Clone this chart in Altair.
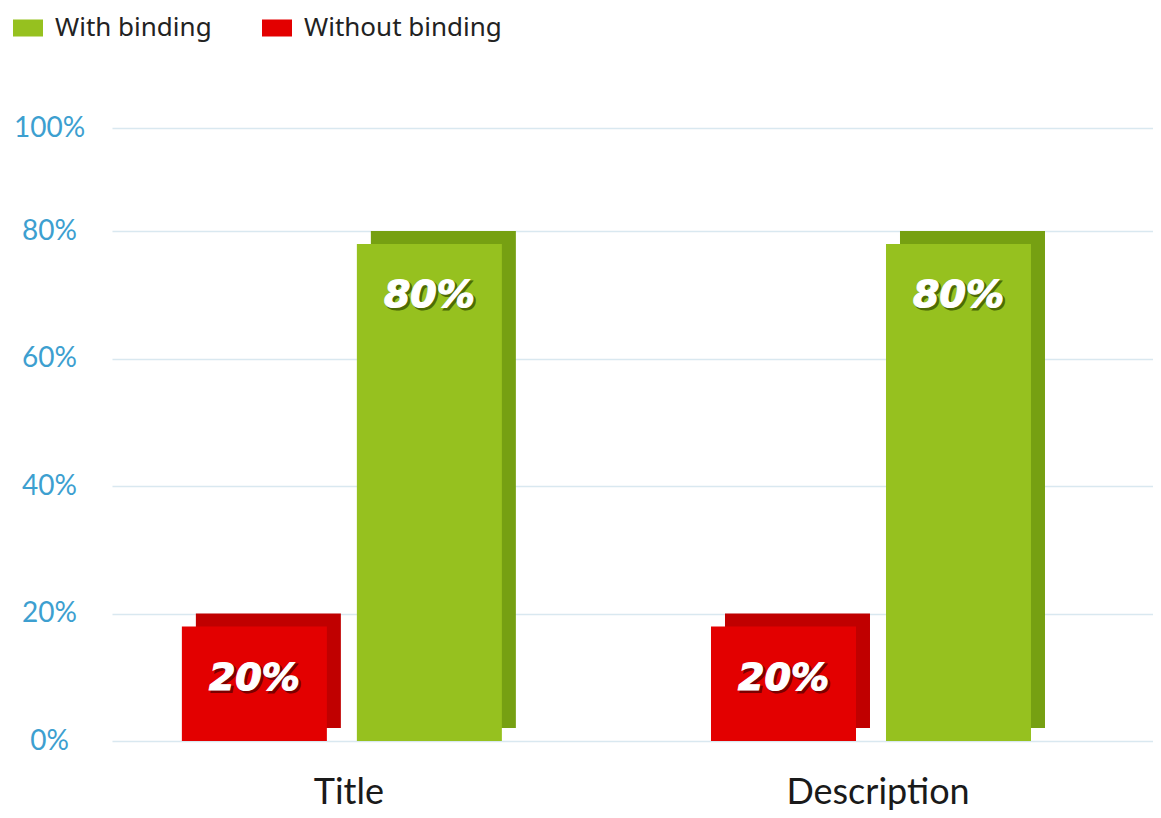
import altair as alt
import pandas as pd

categories = ["Title", "Description"]
series = ["Without binding", "With binding"]
legend_order = ["With binding", "Without binding"]
without_binding = [20, 20]
with_binding = [80, 80]
y_ticks = [0, 20, 40, 60, 80, 100]

rows = []
for i, c in enumerate(categories):
    rows.append({"category": c, "series": "Without binding", "value": without_binding[i]})
    rows.append({"category": c, "series": "With binding", "value": with_binding[i]})
df = pd.DataFrame(rows)
df["base"] = 0
df["label"] = df["value"].astype(str) + "%"

FRONT_GREEN = "#96c11f"
FRONT_RED = "#e30000"
SIDE_GREEN = "#76a012"
SIDE_RED = "#c00000"

x_scale = alt.Scale(paddingInner=0.3686, paddingOuter=0.168, align=0.393)
y_scale = alt.Scale(domain=[0, 80, 100], range=[613, 103, 0], nice=False)

x_enc = alt.X(
    "category:N", sort=categories, scale=x_scale,
    axis=alt.Axis(title=None, labelAngle=0, domain=False, ticks=False, tickSize=0,
                  labelFont="Lato", labelFontSize=36, labelColor="#1a1a1a",
                  labelPadding=34, labelLimit=500, grid=False),
)
y_enc = alt.Y(
    "value:Q", scale=y_scale, stack=None,
    axis=alt.Axis(title=None, values=y_ticks, labelExpr="datum.value + '%'",
                  domain=False, ticks=False, tickSize=0, labelAlign="center",
                  labelPadding=63, labelFont="Lato", labelFontSize=28,
                  labelColor="#3d9fd0", grid=True, gridColor="#d9e8f0",
                  gridWidth=1.5),
)
y2_enc = alt.Y2("base:Q")


def bar_offset(shift):
    return alt.XOffset(
        "series:N", sort=series,
        scale=alt.Scale(type="band", range=[shift, 320 + shift],
                        paddingInner=0.1714, paddingOuter=0),
    )


def text_offset():
    return alt.XOffset(
        "series:N", sort=series,
        scale=alt.Scale(type="point", range=[72.5, 247.5], padding=0),
    )


base = alt.Chart(df)

back = base.mark_bar(yOffset=0, y2Offset=-13).encode(
    x=x_enc, y=y_enc, y2=y2_enc, xOffset=bar_offset(14),
    color=alt.condition("datum.series == 'With binding'",
                        alt.value(SIDE_GREEN), alt.value(SIDE_RED)),
)

front = base.mark_bar(yOffset=13, y2Offset=0).encode(
    x=x_enc, y=y_enc, y2=y2_enc, xOffset=bar_offset(0),
    color=alt.Color(
        "series:N",
        scale=alt.Scale(domain=legend_order, range=[FRONT_GREEN, FRONT_RED]),
        legend=alt.Legend(
            title=None, orient="none", legendX=-99, legendY=-115,
            direction="horizontal", padding=0,
            symbolType="M-1,-0.567H1V0.567H-1Z", symbolSize=900,
            symbolStrokeWidth=0, symbolOpacity=1,
            labelFont="Noto Sans", labelFontSize=26, labelColor="#222222",
            labelOffset=12, columnPadding=50, labelLimit=400,
        ),
    ),
)

shadow = base.mark_text(
    dx=2, dy=67, font="DejaVu Sans", fontSize=38, fontWeight="bold",
    fontStyle="italic", baseline="middle", align="center",
    strokeWidth=2,
).encode(
    x=x_enc, y=y_enc, xOffset=text_offset(), text="label:N",
    color=alt.condition("datum.series == 'With binding'",
                        alt.value("#4d6b05"), alt.value("#7a0000")),
    stroke=alt.condition("datum.series == 'With binding'",
                         alt.value("#4d6b05"), alt.value("#7a0000")),
)

labels = base.mark_text(
    dx=0, dy=65, font="DejaVu Sans", fontSize=38, fontWeight="bold",
    fontStyle="italic", baseline="middle", align="center", color="white",
    stroke="white", strokeWidth=1.2,
).encode(
    x=x_enc, y=y_enc, xOffset=text_offset(), text="label:N",
)

chart = alt.layer(back, front, shadow, labels).resolve_scale(
    xOffset="independent"
).properties(
    width=1041, height=613,
    autosize=alt.AutoSizeParams(type="none"),
    padding={"left": 104, "top": 120, "right": 0, "bottom": 69},
).configure_view(stroke=None)

chart.save("out.html", embed_options={"renderer": "svg", "actions": False})
